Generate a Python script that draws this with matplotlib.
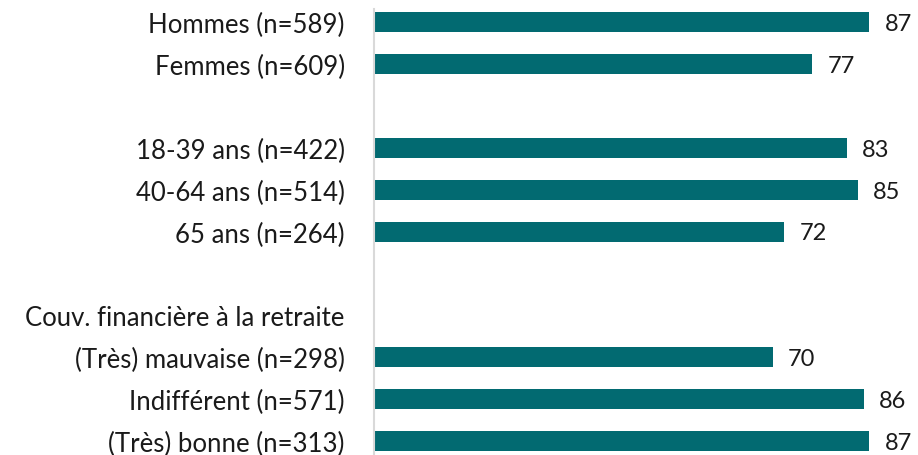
import matplotlib
matplotlib.use("Agg")
import matplotlib.pyplot as plt

labels = ["Hommes (n=589)", "Femmes (n=609)", "",
          "18-39 ans (n=422)", "40-64 ans (n=514)", "65 ans (n=264)", "",
          "Couv. financière à la retraite",
          "(Très) mauvaise (n=298)", "Indifférent (n=571)", "(Très) bonne (n=313)"]
values = [87, 77, None, 83, 85, 72, None, None, 70, 86, 87]

plt.rcParams['font.family'] = ['Lato', 'DejaVu Sans']

W, H = 918, 456
fig = plt.figure(figsize=(W / 100, H / 100), dpi=100)
ax = fig.add_axes([374 / W, 0, 541 / W, 1 - 10 / H])

color = '#026a71'
for i, v in enumerate(values):
    if v is not None:
        ax.barh(i, v, height=0.48, color=color, left=0)
        ax.annotate(str(v), (v, i), xytext=(11, -1), textcoords='offset points',
                    va='center', ha='left', fontsize=17, color='#1a1a1a')

ax.set_xlim(0, 95)
ax.set_ylim(10.33, -0.31)
ax.set_yticks(range(len(labels)))
ax.set_yticklabels(labels, fontsize=18.5, color='#1a1a1a')
ax.tick_params(axis='y', length=0, pad=21)
ax.set_xticks([])
for s in ['top', 'right', 'bottom']:
    ax.spines[s].set_visible(False)
ax.spines['left'].set_color('#d9d9d9')
ax.spines['left'].set_linewidth(1.5)

fig.savefig('out.png', dpi=100)
